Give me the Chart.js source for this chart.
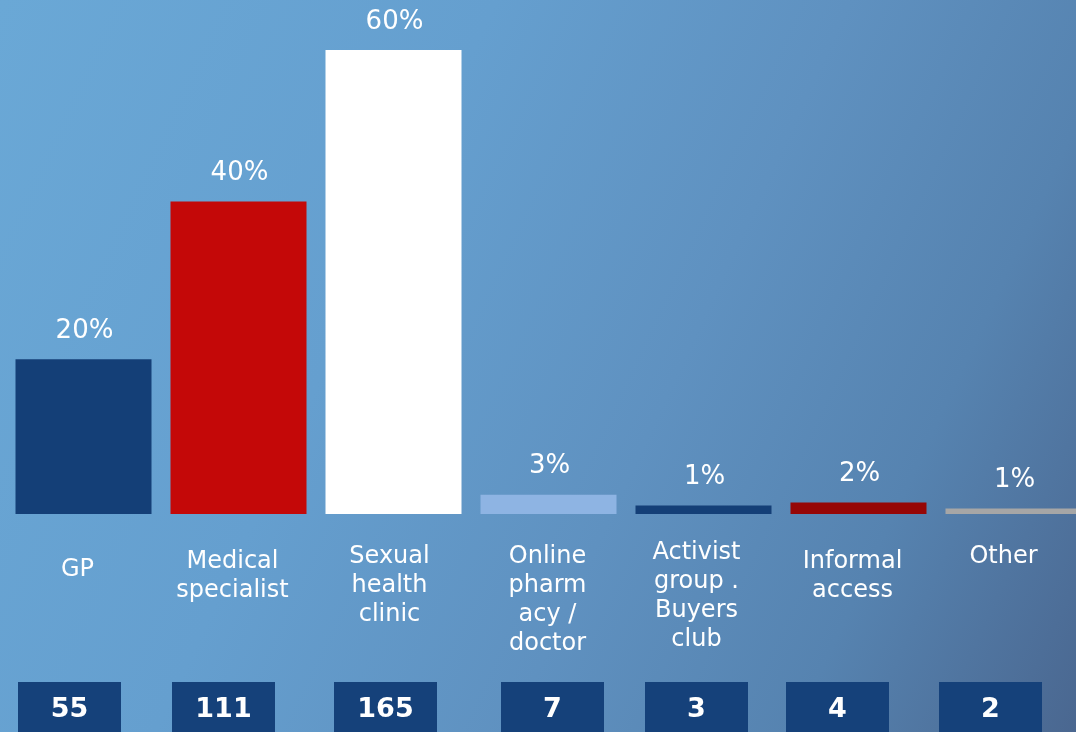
<!DOCTYPE html>
<html>
<head>
<meta charset="utf-8">
<script src="https://cdn.jsdelivr.net/npm/chart.js@4/dist/chart.umd.min.js"></script>
<style>
  html, body { margin: 0; padding: 0; overflow: hidden; }
  body {
    width: 1076px; height: 732px;
    background: linear-gradient(115deg, #6aa8d6 0%, #659fcf 35%, #5f91c0 60%, #5683b0 80%, #4a6790 100%);
  }
  #wrap { position: relative; width: 1092px; height: 732px; }
</style>
</head>
<body>
<div id="wrap"><canvas id="myChart"></canvas></div>
<script>
// data
const categories = [
  ['GP'],
  ['Medical', 'specialist'],
  ['Sexual', 'health', 'clinic'],
  ['Online', 'pharm', 'acy /', 'doctor'],
  ['Activist', 'group .', 'Buyers', 'club'],
  ['Informal', 'access'],
  ['Other']
];
const shares = [20, 40.4, 60, 2.5, 1.1, 1.5, 0.7];
const shareLabels = ['20%', '40%', '60%', '3%', '1%', '2%', '1%'];
const counts = [55, 111, 165, 7, 3, 4, 2];

const barColors = ['#143f77', '#c40808', '#ffffff', '#8eb4e3', '#143f77', '#960606', '#a6a6a6'];
// small layout tweaks for the text under the bars
const labelTop = [570, 562, 557, 557, 553, 562, 557];
const labelShift = [-6, -6, -4, -1, -7, -6, -10];
const boxShift = [-14, -15, -8, 4, -7, -21, -23];

const extras = {
  id: 'extras',
  afterDatasetsDraw(chart) {
    const ctx = chart.ctx;
    const x = chart.scales.x;
    const meta = chart.getDatasetMeta(0);
    ctx.save();
    ctx.textAlign = 'center';
    ctx.textBaseline = 'middle';
    ctx.fillStyle = '#ffffff';
    for (let i = 0; i < counts.length; i++) {
      const cx = x.getPixelForValue(i);
      // percent above bar
      ctx.font = '26px "DejaVu Sans"';
      ctx.fillText(shareLabels[i], meta.data[i].x + 1, meta.data[i].y - 28);
      // category text
      ctx.font = '24px "DejaVu Sans"';
      categories[i].forEach((line, j) => {
        ctx.fillText(line, cx + labelShift[i], labelTop[i] + j * 29);
      });
      // count box
      const bx = cx + boxShift[i];
      ctx.fillStyle = '#15417a';
      ctx.fillRect(bx - 51.5, 682, 103, 50);
      ctx.fillStyle = '#ffffff';
      ctx.font = 'bold 27px "DejaVu Sans"';
      ctx.fillText(String(counts[i]), bx, 710);
    }
    ctx.restore();
  }
};

const config = {
  type: 'bar',
  data: {
    labels: categories.map(c => c.join(' ')),
    datasets: [{
      data: shares,
      backgroundColor: barColors,
      borderWidth: 0,
      barPercentage: 136 / 155,
      categoryPercentage: 1
    }]
  },
  options: {
    responsive: true,
    maintainAspectRatio: false,
    animation: false,
    layout: { padding: { left: 6, right: 1, top: 0, bottom: 218 } },
    plugins: {
      legend: { display: false },
      tooltip: { enabled: false }
    },
    scales: {
      x: { display: false, grid: { display: false } },
      y: { display: false, min: 0, max: 66.47, grid: { display: false } }
    }
  },
  plugins: [extras]
};

var ctx = document.getElementById('myChart').getContext('2d');
var grafica = new Chart(ctx, config);
</script>
</body>
</html>
